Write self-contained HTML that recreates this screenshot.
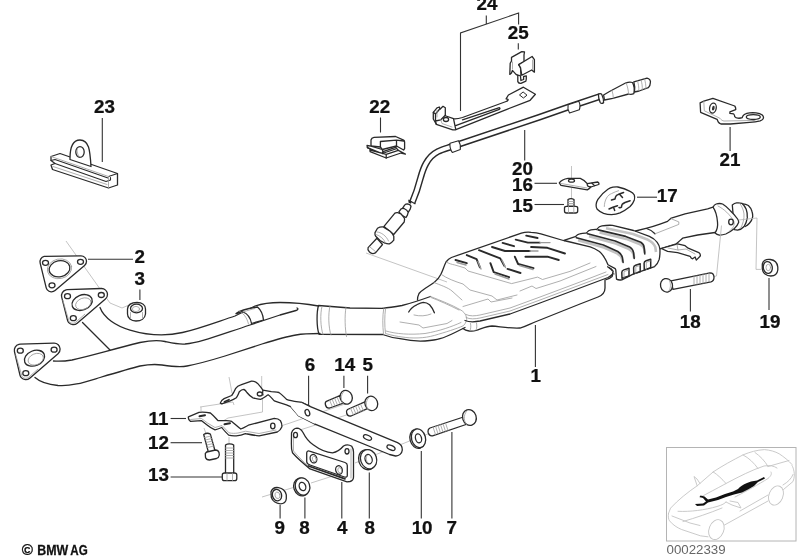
<!DOCTYPE html>
<html><head><meta charset="utf-8">
<style>
html,body{margin:0;padding:0;background:#fff;}
body{width:799px;height:559px;overflow:hidden;}
svg{display:block;filter:grayscale(1);}
text{font-family:"Liberation Sans",sans-serif;}
.n{font-weight:bold;font-size:18px;fill:#111;text-anchor:middle;stroke:#111;stroke-width:0.25px;}
.l{stroke:#333;stroke-width:1.1;fill:none;}
.o{stroke:#2a2a2a;stroke-width:1.3;fill:#fff;stroke-linejoin:round;stroke-linecap:round;}
.on{stroke:#2a2a2a;stroke-width:1.3;fill:none;stroke-linejoin:round;stroke-linecap:round;}
.t{stroke:#9a9a9a;stroke-width:0.8;fill:none;stroke-linejoin:round;stroke-linecap:round;}
.p{stroke:#b5b5b5;stroke-width:0.8;fill:none;}
</style></head><body>
<svg width="799" height="559" viewBox="0 0 799 559">
<rect width="799" height="559" fill="#fff"/>
<!--LABELS-->
<g class="n">
<text transform="translate(486.9 10.0) scale(1.045 1)">24</text>
<text transform="translate(518.2 38.7) scale(1.045 1)">25</text>
<text transform="translate(104.5 113.0) scale(1.045 1)">23</text>
<text transform="translate(379.8 113.0) scale(1.045 1)">22</text>
<text transform="translate(522.4 174.9) scale(1.045 1)">20</text>
<text transform="translate(522.5 190.7) scale(1.045 1)">16</text>
<text transform="translate(522.5 212.0) scale(1.045 1)">15</text>
<text transform="translate(667.2 202.1) scale(1.045 1)">17</text>
<text transform="translate(729.9 165.7) scale(1.045 1)">21</text>
<text transform="translate(139.6 263.1) scale(1.045 1)">2</text>
<text transform="translate(139.6 285.1) scale(1.045 1)">3</text>
<text transform="translate(535.8 381.5) scale(1.045 1)">1</text>
<text transform="translate(690.3 328.2) scale(1.045 1)">18</text>
<text transform="translate(769.9 328.2) scale(1.045 1)">19</text>
<text transform="translate(309.9 371.0) scale(1.045 1)">6</text>
<text transform="translate(344.8 371.0) scale(1.045 1)">14</text>
<text transform="translate(367.6 371.0) scale(1.045 1)">5</text>
<text transform="translate(158.5 425.0) scale(1.045 1)">11</text>
<text transform="translate(158.5 449.1) scale(1.045 1)">12</text>
<text transform="translate(158.5 481.3) scale(1.045 1)">13</text>
<text transform="translate(279.7 533.5) scale(1.045 1)">9</text>
<text transform="translate(304.5 533.5) scale(1.045 1)">8</text>
<text transform="translate(342.3 533.5) scale(1.045 1)">4</text>
<text transform="translate(369.6 533.5) scale(1.045 1)">8</text>
<text transform="translate(422.1 533.5) scale(1.045 1)">10</text>
<text transform="translate(451.6 533.5) scale(1.045 1)">7</text>
</g>
<!--LEADERS-->
<g class="l">
<path d="M102.300 118V162"/>
<path d="M88 259.300H133"/>
<path d="M139.900 289.500V300"/>
<path d="M486.300 15.600V24M460.500 111V33L518.600 13V24.400M518.300 43.200V49.500"/>
<path d="M380.500 117.500V132.500"/>
<path d="M524.700 130V160.500"/>
<path d="M534.500 183.300H557"/>
<path d="M534.500 204.500H564"/>
<path d="M637 197.200H657"/>
<path d="M730.100 127V151"/>
<path d="M535.400 325V367"/>
<path d="M690.400 289V311.500"/>
<path d="M769 278V310"/>
<path d="M308.600 375.700V408"/>
<path d="M343.900 375.700V388"/>
<path d="M367.600 375.700V393.500"/>
<path d="M170.600 418.500H186"/>
<path d="M170.600 442.700H202"/>
<path d="M170.600 477H222"/>
<path d="M280.100 505V518.500"/>
<path d="M304.900 497.500V518.500"/>
<path d="M341.800 482V518.500"/>
<path d="M369.300 472.500V518.500"/>
<path d="M421.300 451V518.500"/>
<path d="M451.900 432V518.500"/>
</g>
<!--PARTS-->
<!-- part 23 -->
<g>
<path class="o" d="M51 156.5L60 153.5L117.5 173.5V185L108.5 188L52.5 169.5L51 165L55 163.5L51 160.5Z"/>
<path class="on" d="M51 160.500L55 159.500L108 178M55 163.500L106 181.500L110.500 180L110.500 177.500M108.500 176.500L117.500 173.500" style="stroke-width:1.1"/><path class="t" d="M51 156.500L108.500 176.500M108.500 176.500V188M53 166.500L107 184.500"/>
<path class="o" d="M70 158.5C70 150 71 140 80 140C89 140 90 150 91 166.5L70 159.5Z"/>
<ellipse class="o" cx="80" cy="152" rx="4.2" ry="5.4"/>
<path class="t" d="M77.5 148.5C76.5 151 77.5 155.5 80 157"/>
</g>
<!-- phantom lines near flanges -->
<path class="p" d="M66 241L110 303L122 308L129 305"/>
<!-- gasket 2 -->
<g transform="translate(0.5,0.8)">
<path d="M45 261L80.5 260.5L51 285.5Z" fill="#2a2a2a" stroke="#2a2a2a" stroke-width="12.3" stroke-linejoin="round"/>
<path d="M45 261L80.5 260.5L51 285.5Z" fill="#fff" stroke="#fff" stroke-width="9.7" stroke-linejoin="round"/>
<ellipse class="o" cx="59" cy="268" rx="10.5" ry="8" transform="rotate(-12 59 268)"/>
<ellipse class="t" cx="59" cy="268" rx="12.3" ry="9.8" transform="rotate(-12 59 268)"/>
<ellipse class="o" cx="45" cy="262" rx="3" ry="2.5"/>
<ellipse class="o" cx="80" cy="261" rx="3" ry="2.5"/>
<ellipse class="o" cx="51.5" cy="284.5" rx="3" ry="2.5"/>
</g>
<!-- pipes -->
<g>
<path class="on" d="M100 307.500C104 318 116 326 130 330C145 334.500 165 336.500 182.500 332.500C200 328.500 218 321.500 235 316L255 306C264 303 272 302.500 280 302.500C288 302.500 305 303.500 318.500 306"/>
<path class="on" d="M82.500 322.500L110 350"/>
<path class="on" d="M53.500 361C60 361.500 66 361 72 360C90 356 110 350 140 342.500C150 340.500 158 340 165 341.500C172 343 178 344.500 185 344C200 342.500 215 336.500 250 325L280 315L296 310.500C298 310 298.500 308.500 297 308"/>
<path class="on" d="M35 377.500C40 382 48 384.500 58 385.500C72 386.500 85 382 100 377.500C115 373 130 368.500 140 366C148 364.500 155 364 162 365C172 366.500 180 367.500 187 366C200 363.500 212 360 225 356L262 344C275 340 287 336.500 296 335C304 333.500 312 333.500 320 333.500"/>
<!-- sleeve -->
<path class="o" d="M236 313.500C240 310.500 248 308.500 257.500 307C261 310 263 315 263.500 320L251.500 323.500C250.500 318 247 313.500 243 312Z"/>
<path class="t" d="M239 311C243 312.500 247 317.500 248.500 324M243 312C248 310.500 252 309 255 308.500"/>
<!-- coupling -->
<path class="on" d="M382.500 308.300L350 308L318.500 305.500C316.500 312 316.500 327 319 334.300L382.500 334.500"/>
<path class="t" d="M330 306C328 314 328.500 328 331 335M346 307C344.500 316 345 329 346.500 336.500M322 306.500C320 314 320.500 327 323 334.500"/>
</g>
<!-- flange upper -->
<g transform="translate(0.8,1.2)">
<path d="M66.700 294.500L100.700 293.300L72.500 317.500Z" fill="#2a2a2a" stroke="#2a2a2a" stroke-width="13.300" stroke-linejoin="round"/>
<path d="M66.700 294.500L100.700 293.300L72.500 317.500Z" fill="#fff" stroke="#fff" stroke-width="10.700" stroke-linejoin="round"/>
<path class="t" d="M62 299L68 319.500C69 322 72 323 75 321L84 313"/>
<ellipse class="o" cx="81.300" cy="301.300" rx="10.500" ry="7.500" transform="rotate(-22 81.300 301.300)"/>
<ellipse class="t" cx="82.500" cy="302.500" rx="8" ry="5.500" transform="rotate(-22 82.500 302.500)"/>
<ellipse class="o" cx="66.700" cy="295" rx="3" ry="2.500"/>
<ellipse class="o" cx="100.500" cy="293.800" rx="3" ry="2.500"/>
<ellipse class="o" cx="72.500" cy="317" rx="3" ry="2.500"/>
</g>
<!-- flange lower -->
<g transform="translate(0.8,1.2)">
<path d="M19.500 349L53.300 348L25 372.500Z" fill="#2a2a2a" stroke="#2a2a2a" stroke-width="13.300" stroke-linejoin="round"/>
<path d="M19.500 349L53.300 348L25 372.500Z" fill="#fff" stroke="#fff" stroke-width="10.700" stroke-linejoin="round"/>
<path class="t" d="M15 354L21 374.500C22 377 25 378 28 376L37 368"/>
<ellipse class="o" cx="33.700" cy="357" rx="10.500" ry="7.500" transform="rotate(-22 33.700 357)"/>
<ellipse class="t" cx="35" cy="358" rx="8" ry="5.500" transform="rotate(-22 35 358)"/>
<ellipse class="o" cx="19.500" cy="349.500" rx="3" ry="2.500"/>
<ellipse class="o" cx="53.300" cy="348.500" rx="3" ry="2.500"/>
<ellipse class="o" cx="25" cy="372" rx="3" ry="2.500"/>
</g>
<!-- nut 3 -->
<g>
<path class="o" d="M127.500 309C128 304.500 132 302.500 137 302.500C142 302.500 145.500 305 145.500 309V314C145 318.500 141 321 136 321C131 321 127.500 318 127.500 314Z"/>
<ellipse class="on" cx="136.500" cy="308.500" rx="6" ry="4.300"/>
<ellipse class="t" cx="136" cy="309" rx="3.600" ry="2.600"/>
<path class="t" d="M130.500 312.500V318.500M142.500 312.500V318"/>
</g>
<!-- phantom line from sensor to muffler -->
<path class="p" d="M366 253L447 282"/>
<!-- Y piece / heat shield -->
<g>
<path class="on" d="M382.500 308.300C390 307.500 396 306.500 402 305.500C410 303.500 418 301 430.500 296.500"/>
<path class="on" d="M382.500 334.500C388 336.500 394 338 400 338.700C408 340.500 418 341.500 425 341C432 340.500 436 340 440 338.700C446 337 450 335 455 332.500C459 330.500 462 329 465 327.500"/>
<path class="t" d="M383.700 308.800C382.500 316 382.500 325 383.500 334M385.500 309C384.500 316 384.500 326 385.500 333.500C392 335.500 398 336.500 402 337C412 338.500 424 338.500 434.500 335.400C446 332 456 329 463.400 325.700C466 323 467 320 466.600 317.700C466 314 463 311 460 309.600C452 305 442 301 430.500 296.500"/>
<path class="t" d="M386 331C396 334 410 335 425 333.500C440 331 452 326.500 461 322.500"/>
<path class="t" d="M400 322L419 325L423 328L447 323.500L452 320.500M414 315C420 316.500 426 316 431 314"/>
<path class="on" d="M408.700 312C410 309.500 413 306.500 416.700 304.800C419 303.500 421 302.500 423.200 302.400C426 302.500 428 303.500 429.600 304.800C432 307.500 433.500 310 434.400 312.800"/>
</g>
<!-- Muffler -->
<g>
<!-- neck + top edge -->
<path class="on" d="M417.500 300C417.500 297.500 418 295.500 419 293.500C420.500 291.500 422 290.500 424 289.200C428 286.500 431.500 284.500 434.400 282.200C438 279.500 439.500 277 440.900 274.200C443 270 444 266 446 262C447.500 260 449 258.500 451.400 257.500L521.400 233.100C525 232 528 232 531.100 232.300C535 232.500 538 233 540.900 233.900L565 241"/>
<!-- right end of main box under 2nd box -->
<path class="on" d="M607.600 266.800C610 268.500 611.800 270 612.800 271.300C613.200 273.500 613 275.200 612.100 276.600C610.500 278 608.500 279 606 279.600"/>
<!-- flange line: front lower edge of top half -->
<path class="on" d="M465 320.500C470 322.500 475 322 480 321L510 314L540 303L580 288L608 277.500C612 275.500 614 273 613 271C612 269 610.500 268 609 267.500"/>
<path class="on" d="M463 328.500C466 331 472 332 476 330.500C482 328.500 487 326 492 326C500 326.500 508 328.500 520 328C527 326 531 323.500 535 322L580 304L598 297C603 295 605 291 605 288L605 280"/>
<path class="t" d="M466 317.500C470 319.500 475 319 480 318L510 311L540 300L580 285L608 274.500M466 314.500C470 316.500 475 316 480 315L510 308L540 297L580 282L606 272"/>
<path class="t" d="M470 330.500C471 328.500 471 326 470.500 323.500M476 330C477 328 477 326 476.500 323"/>
<!-- top face gray outline of raised area -->
<path class="t" d="M446 262C449 263.500 452 264.500 454.600 264.900L465 268L468 271L511.600 283.600L537.600 277.100L542.500 279.500L570 271.400L590 263"/>
<path class="t" d="M440.900 274.200C447 278.500 455 281.500 463 284L470 290L492 296L497 300L517 295M434 282.500C440 285 448 287.500 452 291L462 300M520 291L532 286L536 288.500L560 281L596 266.500"/>
<path class="t" d="M459 310C449 305 440 301 431 297.500M463 306.500L488 299L491 302L512 298"/>
<!-- ribs -->
<g class="on" style="stroke-width:1.9">
<path d="M455.500 260L466.800 263.200"/>
<path d="M466.800 255.100L476.600 259.200L479.900 267.300"/>
<path d="M479 250.200L500.200 258.400L504.300 265.700"/>
<path d="M490.400 263.200L493.700 272.200L509.100 277.100"/>
<path d="M492 247L505 251L530 251"/>
<path d="M502.600 242.900L514 246.200"/>
<path d="M515.700 239.600L527.900 242.600L540 242.600"/>
<path d="M526.200 235.600L537.600 238"/>
<path d="M507.500 268.900L520.500 273"/>
<path d="M514.800 256.700L518.100 264L533.600 268.100"/>
<path d="M525.400 256.700L547.400 256.700L558.800 260"/>
<path d="M531.100 247L547.400 247.800L565 253.500"/>
</g>
<g class="t" style="stroke-width:1.4">
<path d="M530 251L538 251M540 242.600L550 242.600M457 262.500L466 265M481 269L478 261.500M505.500 267.500L502 260M495 274L509 279M519.500 265.500L533 269.500"/>
</g>
</g>
<!-- second box (ribbed) -->
<g>
<path class="o" d="M563.900 240.400L573 237.300C574.500 236.800 575.500 236.600 575.800 236.400C576.800 235 578 234.200 579.700 233.800C582 233.200 584 233 586.300 233.100L586.900 232.500C587.800 231.200 589 230.300 590.900 229.900C593 229.500 595 229.400 596.800 229.500L597.500 228.500C598.600 227 600 226.200 602 225.900C605.500 225.300 609 225.100 612.600 225.300L633.600 230.500L649.400 236.400C653 238 655.500 240 657.200 242.300C658.700 244.300 659.600 246.500 659.900 248.900C660.100 252.500 659.900 256 659.200 259.400C658.300 262.300 656.800 264.800 654.600 266.600L633.600 273.900L621.800 279.800C620 280.200 618 280 616.500 279.100L615.800 269.900L615.200 268.600L608 264.700C607 262.300 606 260 604.700 258.100C603.200 255.500 601.500 253.300 599.400 251.500C596.500 249.600 593.500 248 590.200 246.900L565.900 241Z"/>
<!-- band shading -->
<g class="t" style="stroke:#c2c2c2;stroke-width:2.6;stroke-linecap:butt">
<path d="M606 228.300L633 234L648 239.800C651.500 241.500 654 244 655.300 247L656 252"/>
<path d="M599.500 232.400L626.200 238.900L640 244.300C642.500 245.500 643.800 247 644.300 249L644.800 253"/>
<path d="M589 236.300L615.700 243.500L628.500 248.800C631.500 250.200 633 252 633.500 254.300L634.200 258"/>
<path d="M578 240.200L603.900 247.500L616.500 253C619.500 254.500 621.300 256.500 622 259L622.800 262"/>
</g>
<!-- band dark lines -->
<g class="on" style="stroke-width:1.6">
<path d="M576.400 237.700L603.400 245L617.800 251.500C620.300 253 621.700 255 622.400 257.500L623.100 262.500"/>
<path d="M587.600 233.800L615.200 241L629.600 246.900C632 248.300 633.200 250.300 633.600 252.900L634.200 258.500"/>
<path d="M598.100 229.900L625.700 236.400L640.800 242.300C643 243.600 644 245.500 644.100 247.600L644.800 254"/>
</g>
<path class="t" d="M612.800 271.300L615.500 275.500"/>
<!-- windows on front -->
<path class="on" d="M621.800 272.500C621.800 271 622.600 270.300 623.800 269.900L629 268.200V276L622 278.300ZM633.600 267.800C633.600 266.300 634.400 265.600 635.600 265.200L640.200 263.700V271.700L633.800 273.900ZM644.100 263.300C644.100 261.800 644.900 261.100 646.100 260.700L650.700 259.200V267.700L644.300 269.900Z" style="stroke-width:1.500"/>
<path class="t" d="M624 277.700V271.500L628.700 270M635.800 273.300V266.800L639.900 265.500M646.300 269.300V262.300L650.400 261"/>
</g>
<!-- tail pipe -->
<g>
<path class="on" d="M635.500 231L646 228.300C650 227.500 655 226 660 224.200L667.600 221.300C669 220 670.300 219 671.300 218.100L685.100 213.800L707.600 208.800L713 207.200M646.500 228.500C650 229.500 653 231.500 655 233.800"/>
<path class="on" d="M660 248.800L676.300 243.800C678.500 242 680.500 240 682.600 238.200L697.600 235L715 232.500"/>
<path class="t" d="M671.300 218.800L678.800 221.900L678.800 224.400L655 233.800"/>
<!-- hanger bracket under pipe -->
<path class="o" d="M661.300 248.500L677.600 243.800L685.100 245.700L688.200 248.200L698.800 252.600C700.300 253.800 700.600 255.200 700.100 256.300L696.300 260.100L695.100 257L692.600 258.800C691.500 258.500 690.600 257.500 690.100 256.300L677.600 252.600L667.600 251.300Z"/>
<path class="t" d="M668 248L678 250L686 249L695 254M678 250L677 244.500"/>
<!-- flange at end -->
<path class="o" d="M732.300 205C734 203.500 735.500 203 736.600 202.900C738.500 202.700 740.300 202.800 741.900 203.300C743.800 205 745.200 207 746.200 209.300C747.200 212 747.500 215 747.300 217.900C746.800 221 745.700 224 744.100 226.500C742.300 228.500 740 229.700 737.600 230.100L734.400 229.700Z"/>
<path class="on" d="M743 203.800C745 203.800 746.800 204.500 748.400 205.500C750.200 207.200 751.400 209.200 752 211.500C752.600 213.300 752.800 215 752.700 216.800C752.200 219.300 751 221.500 749.400 223.300C748.200 224.700 746.800 225.800 745.200 226.500"/>
<path class="t" d="M739.500 203.200C742 206 743.500 210 744 214C744.300 219 743 224 740.500 228.500"/>
<path class="o" d="M713 207.200C713.800 205.500 714.900 204.500 716.200 204C718.500 203.300 720.600 203.300 722.600 204C725.500 205.800 728 208 730.100 210.400C733 213 735.500 216 737.600 219C738.300 220 738.700 221 738.700 222.200C737.800 224.600 736.400 226.800 734.400 228.600C731.800 230.800 729 232.700 725.800 234C723.600 234.800 721.500 235.200 719.400 235.100C717.800 234.700 716.300 234 715.100 232.900C717 230 718 226 717.500 222C717 216 715 210 713 207.200Z"/>
<path class="t" d="M718 206C724 209 730 214.500 734 221.500C735 225 733 228.500 729.500 231"/>
<ellipse class="o" cx="731" cy="222" rx="2.300" ry="2.800"/>
</g>
<!-- phantom lines for 18/19 -->
<path class="p" d="M721.500 225.500L716.500 276L712 277M738.700 220L757 218L756 269.400L761 269.400"/>
<!-- bolt 18 -->
<g transform="translate(0,0.8)">
<path class="o" d="M671 280L710 272C712.500 272 714 274 714 276.500C714 279 713 280.500 711 281L673 288.500Z"/>
<path class="t" d="M694 275.500V284M697 275V283.500M700 274.500V283M703 273.500V282.500M706 273V282M709 272.500V281"/>
<ellipse class="o" cx="666.500" cy="284.500" rx="6" ry="6.800" transform="rotate(-15 666.500 284.500)"/>
<path class="t" d="M669 279C671 282 671 287 669 290"/>
</g>
<!-- nut 19 -->
<g transform="translate(1.3,0)">
<path class="o" d="M761 264C762 260.500 765 259 769 259.500C773 260 776 263 776.500 267V270C776 274 773 276 769.500 276C765 276 761.500 273 761 269Z" />
<ellipse class="on" cx="766.500" cy="267.500" rx="4.500" ry="6" transform="rotate(-10 766.500 267.500)"/>
<ellipse class="t" cx="767" cy="267.500" rx="2.300" ry="3.200"/>
</g>
<!-- sensor 20 cable -->
<g fill="none" stroke-linecap="butt" stroke-linejoin="round">
<path d="M412 203C415.500 195 418.500 186 420.800 177C422.500 171 424 167 426 163.500C429 158 433 154 438 151.500C442 149.500 446 148.500 452 146.500L540 117L570 106.500L600 96.500" stroke="#2a2a2a" stroke-width="6.800"/>
<path d="M411.500 204.500C415.500 195 418.500 186 420.800 177C422.500 171 424 167 426 163.500C429 158 433 154 438 151.500C442 149.500 446 148.500 452 146.500L540 117L570 106.500L601 96.200" stroke="#fff" stroke-width="3.900"/>
</g>
<!-- sleeves -->
<path class="o" d="M450 143.300L458.500 140.800C460 143 460.700 146.500 460.300 149.500L452.300 152.500C450.500 150 449.700 146.500 450 143.300Z" style="stroke-width:1.1"/>
<path class="o" d="M568.100 104.800L578.700 101.300C580 103.500 580.300 107 579.300 109.700L569.500 113C568 110.500 567.500 107.500 568.100 104.800Z" style="stroke-width:1.100"/>
<path class="o" d="M598.400 94.500C599.500 93.300 601 93.500 601.800 94.500C603 97 603.700 100 603.600 102.500C602.500 103.800 601 103.700 600.200 102.500C599 100 598.400 97 598.400 94.500Z"/>
<!-- connector -->
<path class="o" d="M603.600 95L609.500 91.500L626 82.800C628.500 82 631 82 632.500 82.500C634.300 86 634.700 90 633.800 93.700C632 94.500 630 94.500 628.600 94L612.800 98.300L604.500 100Z"/>
<path class="t" d="M626 82.800C627.500 86 628.300 90 628.600 94M612 90.500C612.800 93 613.300 95.500 613.300 98"/>
<path class="o" d="M633.800 81.800L647 78.100C649.500 78.500 651 80.500 650.300 83.100C650.300 85 649.500 86.800 648.300 87.700L639.100 91L634.500 92C635 88.500 634.700 85 633.800 81.800Z"/>
<path class="t" d="M637.500 81C638.500 84 639 87.500 638.800 90.800M641 80C642 83 642.500 86.500 642.300 89.800M644.500 79C645.500 82 646 85.500 645.800 88.500"/>
<!-- sensor body -->
<g>
<path class="o" d="M402.500 208.300L404.600 205.100C405.500 204.200 406.500 203.900 407.400 203.900C409.500 204.300 410.800 205.300 411 206.300L410.200 209.100L408.200 212.300C405.800 211.500 403.800 210.200 402.500 208.300Z"/>
<path d="M408.300 200.500L411.800 201.300L411 203.800L408.600 202.800Z" fill="#222"/><path class="on" d="M408.800 200.200L415 203.700" style="stroke-width:1.1"/>
<path class="o" d="M398.900 211.900L400.900 209.100C401.800 208.400 402.800 208.200 404 208.500C406 209.500 407.500 210.800 408.200 212.300L407.400 215.100L406 217.500C403 216.500 400.500 214.500 398.900 211.900Z"/>
<path class="o" d="M384 226.400L394.900 213.100C395.800 212.600 396.700 212.500 397.700 212.700C400.300 213.300 402.200 214.800 403.300 216.700C404.200 217.500 404.600 218.300 404.600 219.200L404.200 222L393.700 234.500Z"/>
<path class="o" d="M375 232.600L377.500 228.200C379.500 227 381.500 226.600 383.200 226.900L390.100 231.300C391.800 232.800 393 234.500 393.800 236.300V240.100C392.500 241.800 391 243 389.400 243.800C388 244 386.500 243.700 385 243.200L380 240.500L375.700 236.300C375 235 374.800 233.800 375 232.600Z"/>
<path class="t" d="M377 232C381 232 386.500 236 388.500 241M376 234.500C380 235.500 384 239 385.500 243"/>
<path class="o" d="M376.900 238.200L382.500 244.500L375.700 252.600C373.500 254 371 253.500 369.500 252C368 250.500 367.500 249 368.100 247.600Z"/>
<path class="t" d="M370 247L376 252"/>
</g>
<!-- part 22 clip -->
<g>
<path class="o" d="M371 146V140C371.300 138.500 372.500 137.500 374 137.300L395.600 136.500L403.600 140.100C404.300 140.500 404.600 141.200 404.600 142V148.600L403.600 150L396.500 146L382.200 149.500L380.400 147Z"/>
<path class="on" d="M380.400 147V141.500L396.500 140.100V146M396.500 140.100L403.800 141"/>
<path class="o" d="M367 145.500L367.400 147.700L370.100 149V151.700L386.200 158L401 153L405.400 154L398.300 150.400L395.600 147.300L383 151.700L382.200 149.500L371 146.200Z"/>
<path class="on" d="M367.400 147.700L382.200 153.500L383 151.700M370.100 150L386.200 154.400L398.300 150.400M386.200 154.400V158M382.200 153.500L395.600 149"/>
</g>
<!-- part 24 bracket -->
<g>
<path class="o" d="M506.100 98.800L508.400 95L523.400 87.200L535.400 94.300L530.100 100.300L506.900 109.300L455.800 129.600C454.500 130 453 130 452 129.600L436.300 124.300L433.300 119V112.300L437 107.800L439.300 107L440 109.300L443 106.300L445.300 107.800V115.300L446 116L453.500 118.700C456 119 459 118.500 462.500 117.500L506.100 101.500C507.500 101 508.500 100 508 99.300Z"/>
<path class="on" d="M498.600 107.800L462.500 119.800M499.300 109.300L455 125.800M498.600 107.800C500 107.500 500.500 108.800 499.300 109.300M453.500 118.700L455 125.800L455.800 129.600"/>
<path class="on" d="M433.300 112.300L435.500 114V121L440.800 119.800L445.300 115.300M435.500 114L439.300 109.500M436.300 124.300L435.500 121"/>
<path class="t" d="M440.800 119.800L442 123.500L452 127M437 110.500V117"/>
<ellipse class="on" cx="446" cy="119.500" rx="2.600" ry="2"/>
<path class="on" d="M523.400 92.200L527 95.200L523.400 98L519.800 95.200Z" style="stroke-width:1"/>
</g>
<!-- part 25 -->
<g>
<path class="o" d="M511.500 57.400L521.800 51.600L524.500 52L524 54.800V62L518.700 64.600L520.500 67.700L521 75L518.700 75.800L516 74.400L512.400 70.400L511.500 73L509.800 74.400L510.200 63.300L511.500 61Z"/>
<path class="o" d="M517.800 75L517.800 81.600C518.500 83 519.800 83.500 520.900 83.400L525.900 81.100C526.300 80 526.400 78 526.300 75.800L523.600 76.500V79.500L520.900 80.500L520.500 76Z"/>
<path class="o" d="M518.700 64.600L532.100 56.500L534.400 59.700V72.200L531.700 70L521.800 75.300L520.500 67.700Z"/>
<path class="t" d="M512.500 62V69M532.500 60V69.500"/>
</g>
<!-- part 21 -->
<g>
<path class="o" d="M700.100 102.800L703.800 101.200L712.900 98.300L734.700 106C735.500 107 735.900 108.300 735.700 109.700L729.900 111.800V113.400L733.600 113.900C734.300 114.600 734.700 115.500 734.700 116.600C735.500 117.500 736.500 118 737.900 118.200C739.500 118.300 741 118.200 742.100 117.700C742.500 116.300 743.200 115.200 744.300 114.500C746 113.600 747.800 113.100 749.600 112.900C751.800 112.700 754 112.700 756 112.900C758.500 113.200 760.800 113.900 762.300 115C763.300 116 763.700 117 763.400 118.200C762.800 119.500 761.700 120.400 760.200 120.900C757 121.700 753.500 122.200 749.600 122.400L730.400 124H720.900C719.700 123.600 718.800 122.900 718.200 121.900L717.100 119.300L700.600 112.300Z"/>
<path class="t" d="M703.800 101.200L704.300 110.800L719.800 118.200C721 119.800 722.500 120.800 724 121L755 120.400"/>
<ellipse class="on" cx="712.900" cy="108.100" rx="3.300" ry="5" transform="rotate(12 712.900 108.100)"/>
<ellipse cx="713.300" cy="108.200" rx="1.300" ry="2.400" fill="#333" transform="rotate(12 713.300 108.200)"/>
<ellipse class="on" cx="753.300" cy="117.100" rx="7" ry="2.400"/>
</g>
<!-- part 16 -->
<g>
<path class="p" d="M571.500 166V178M571.500 188V199"/>
<path class="o" d="M559.300 182.800C561 180.500 564 179 568 178.400H580.300C583 179.500 585.500 181.500 587.300 183.700L597.800 182C599 182.800 599.200 183.800 598.700 184.500L590.800 187C589.800 188.200 588.500 189.200 587.300 189.800L561 185.400Z"/>
<path class="on" d="M587.300 183.700C586.800 185.500 587.800 186.800 590.800 187M592 183.200L594.500 185.600"/>
<path class="t" d="M561 183.500L587 188"/>
<ellipse class="on" cx="571.500" cy="180.700" rx="3" ry="1.500"/>
</g>
<!-- bolt 15 -->
<g>
<path class="o" d="M568 199.500C569.500 198.600 572.500 198.600 574 199.500V207H568Z"/>
<path class="t" d="M568 201.500H574M568 203.500H574M568 205.300H574"/>
<path class="o" d="M564.500 208C564.500 206.800 565.500 206.300 566.500 206.300H575.500C576.700 206.300 577.700 207 577.700 208V211C577.700 212.300 576.500 213 575.500 213H566.500C565.300 213 564.500 212.300 564.500 211Z"/>
<path class="t" d="M568.500 206.500V213M573.800 206.500V213"/>
</g>
<!-- part 17 rubber hanger -->
<g>
<path class="o" d="M596.100 204.700C596.300 202.500 597 200.700 597.900 199.300C600.500 195.500 604 192 607.900 189.300C609.500 188.200 611.200 187.500 612.900 187.200C614.500 187 616.300 186.900 617.900 187C622.500 188 626.500 189.500 630.100 191.400C632 192.300 633.500 193.500 634.300 195C634.800 196.700 634.800 198.300 634.300 200C633.500 202.300 632 204.500 630.100 206.500C627 209 623.500 211.300 620 212.900C617.300 214 614.500 214.600 611.500 214.700C608.700 214.600 606 214.100 603.600 213.300C601 212.300 598.800 211 597.200 209.300C596.300 208 596 206.300 596.100 204.700Z"/>
<path class="t" d="M604.300 206.500C604.300 203.500 605.200 200.500 606.500 198C608 195.500 609.700 194.300 611.500 193.600C614 192.300 616.500 191.300 618.600 190.700"/>
<path class="on" d="M611.500 200L615 199C615.200 197.500 615.800 196.300 616.500 195.400L618.600 194.300L623.600 192.500M620 194.700L622.500 197.500" style="stroke-width:1.500"/>
<path class="on" d="M609 209L612.900 207.200L617.500 205.800M613.600 207.500L614.700 210.400M619 207.500C620 207.800 620.800 207.700 621.500 207.200C621.500 206 621.800 205 622.200 204.300C623 203.500 624 203 625 202.500L630.100 200.700" style="stroke-width:1.500"/>
</g>
<!-- phantom lines in bracket area -->
<path class="p" d="M229 377L232 393M261.700 376V388M262.500 390V412L228 418L223 421M200 407L233 402L234 405M201 407V411M204 428L206.500 435M229 437V444M262 432L290 423M290 423L345 404M300 430L365 409M336 475L311 483M295 487L262 497M355 463L412 440M423 436L430 433"/>
<!-- upper clamp (6 left part) -->
<g>
<path class="o" d="M220.300 403.100C221 400.500 222.500 399.500 224.100 398.600L231.700 395.500C233.500 393 234.500 391 235.500 388.700C237 386.500 238.500 385.500 240.800 384.900L251.500 381.100C254 381 256 382 257.600 383.400C259.500 385.500 261.500 388 262.900 390.200L271.300 391.700C274 392 276.500 392 278.900 392.500C282 394.500 284 397 286.500 399.300C291 401 296 401.500 302 402.500L310.400 406.600L315 424.100L298.300 415.700C296 412.500 293 409.500 290.600 406.600C288 405.500 285.500 404.500 283.400 403.900C280 403 277 402 274.300 400.900C272 398.500 270.500 396.500 268.200 394.800C265.500 396.500 263 398.500 260.600 399.300C258 399 255.500 398.500 253 397.800C250.500 396.500 248.500 394.500 246.900 392.500C246 391 245 390 243.900 389.400C242 389.500 240.500 390.500 239.300 391.700C238.500 394 237.500 396 236.300 397.800C234.500 399 232.500 400 230.200 400.900L221.800 403.900Z"/>
<path class="on" d="M224.500 401.800L229 399.800" style="stroke-width:1.8"/>
<ellipse class="on" cx="259.800" cy="394" rx="2.500" ry="2"/>
<path class="on" d="M262.900 390.200C262.500 392 262.500 393.500 263 395"/>
</g>
<!-- lower clamp 11 -->
<g>
<path class="o" d="M188.400 416.800L199 412.300C203 412 207 412.300 210.400 413C213.500 415.500 216 418.500 218 420.600L225.600 420.600C228 420.500 230 420.800 231.700 421.400C235 424 238 427 240.800 429C243.500 428 246 426.500 248.400 425.200L274.300 418.300C277 418.300 279 419 280.400 420.600C281.500 422.500 282 424.500 281.900 426.700C281 429 279.500 431 277.300 432L259.100 435.800C254.500 435.500 250 434.500 245.400 433.600C242.500 434.800 239.500 435.500 236.300 435.800C233.500 436 231 435.800 228.700 435.100C226 432.500 223.500 430 221.800 427.500C219.500 428.500 217 429.500 215 429.800C212 428.500 209.500 427 207.400 425.200C205 423.500 203 422 201.300 420.600L190.600 421.400C188.800 420 188 418.500 188.400 416.800Z"/>
<path class="t" d="M190.600 419.500L201.500 418.500L207.500 423L215 427.500L222 425.500L229 432.800C232 433.500 235 433.500 238 433L245.500 431.200L259 433.500L276 430"/>
<path class="on" d="M199.500 416.300L205 415.300" style="stroke-width:2"/>
<path class="on" d="M224.500 424.300L230 423.300" style="stroke-width:2"/>
<ellipse class="on" cx="272.800" cy="426" rx="2.200" ry="2.800"/>
</g>
<!-- bolt 12 -->
<g>
<path class="o" d="M203.700 434.500C205.500 433.300 208.500 433 210.300 434L215.500 452.500L209 454.500Z"/>
<path class="t" d="M204.500 437.500L211 436M205.300 440L211.800 438.500M206 442.500L212.500 441M206.800 445L213.300 443.500M207.500 447.500L214 446"/>
<path class="o" d="M205.300 453.500C206 452 207.500 451.500 209 451.500L215.500 450C217.500 450 218.500 451 219 452.500L219.300 455C219 457 218 458 216.500 458.500L209.500 460C207.500 460 206 459 205.500 457.500Z"/>
</g>
<!-- bolt 13 -->
<g>
<path class="o" d="M225.500 445C227.500 443.600 231.500 443.600 233.700 445V474.500H225.500Z"/>
<path class="t" d="M225.500 448H233.700M225.500 450.500H233.700M225.500 453H233.700M225.500 455.500H233.700M225.500 458H233.700"/>
<path class="o" d="M222.300 475C222.300 473.800 223.300 473 224.500 473H234.500C236 473 236.800 474 236.800 475V478.500C236.800 480 235.800 480.700 234.500 480.700H224.500C223 480.700 222.300 479.800 222.300 478.500Z"/>
<path class="t" d="M227 473.300V480.500M232.500 473.300V480.500"/>
</g>
<!-- bracket 6 bar -->
<g>
<path class="o" d="M302 402.500L310.400 406.600L397.500 442.600C400.500 444 402.500 447 402.300 450C402 453.500 399 456.200 395.600 456L389.500 454.500L315 424.100L298.300 415.700L290.600 406.600Z" style="stroke:none"/>
<path class="on" d="M302 402.500L310.400 406.600L397.500 442.600C400.500 444 402.500 447 402.300 450C402 453.500 399 456.200 395.600 456L389.500 454.500L315 424.100"/>
<ellipse class="on" cx="307.400" cy="412.700" rx="2.200" ry="3.300" transform="rotate(-20 307.400 412.700)"/>
<ellipse class="on" cx="367.500" cy="437.500" rx="4.300" ry="2.200" transform="rotate(24 367.500 437.500)"/>
<ellipse class="on" cx="391" cy="447.700" rx="4.300" ry="2.200" transform="rotate(24 391 447.700)"/>
</g>
<!-- bolt 14 -->
<g>
<path class="o" d="M326.400 401.300L341 395.200L344.200 402.800L329.600 408C327.500 408.300 326 407 325.500 405C325 403.300 325.300 402 326.400 401.300Z"/>
<path class="t" d="M329.500 400L332.500 407M332 399L335 406M334.500 398L337.500 405M337 397L340 404"/>
<ellipse class="o" cx="346.200" cy="397.300" rx="6" ry="7" transform="rotate(-20 346.200 397.300)"/>
<path class="t" d="M343.500 392C340.500 395 340.500 401 343.500 404"/>
</g>
<!-- bolt 5 -->
<g>
<path class="o" d="M347.500 409.500L366 401.300L368.500 408.100L351 416C348.800 416.500 347.300 415.300 346.700 413.300C346.200 411.600 346.500 410.300 347.500 409.500Z"/>
<path class="t" d="M350.500 408.300L353.500 415M353 407.200L356 414M355.500 406.100L358.500 413M358 405L361 412M360.500 404L363.500 411"/>
<ellipse class="o" cx="371.300" cy="403.400" rx="6.300" ry="7.300" transform="rotate(-20 371.300 403.400)"/>
<path class="t" d="M368.500 398C365.500 401 365.500 407 368.500 410"/>
</g>
<!-- plate 4 -->
<g>
<path class="o" d="M291.500 433C292.500 430 294.500 428.300 297 428.200C299.500 428.200 301.500 430 303 432.500C305.500 437.500 309 442 313.200 444.700C319 449 326 452.500 332.500 452.800C337 452 340.500 449.500 343.500 446C346 444.500 349.500 444.800 351.800 446.300C353 448 353.500 450 353.500 452V477C353.500 479.500 352 481 350 481.500L347 481.800L310 468.900C304 464 297 458 292.500 452.800C291.500 450 291.300 447 291.400 444Z"/>
<path class="t" d="M293.500 436V451C298 456.500 304 462 308 466M351 449V478"/>
<path class="o" d="M306.700 453C306.700 451.500 308 450.500 309.500 451.100L345 462.500C346.500 463 347.300 464 347.300 465.500V475.500C347.300 477 346 477.500 344.500 477L310 465C308 464.300 306.700 463 306.700 461.500Z"/>
<path class="on" d="M308.500 466L345 478.800" style="stroke-width:1.800"/>
<ellipse class="on" cx="295.500" cy="435" rx="2" ry="2.700"/>
<ellipse class="on" cx="347" cy="451.300" rx="2" ry="2.700"/>
<ellipse class="on" cx="313.500" cy="458.700" rx="3.300" ry="4.300" transform="rotate(-15 313.500 458.700)"/>
<ellipse class="t" cx="314.300" cy="459" rx="1.900" ry="2.800" transform="rotate(-15 314.300 459)"/>
<ellipse class="on" cx="339" cy="470" rx="3.300" ry="4.300" transform="rotate(-15 339 470)"/>
<ellipse class="t" cx="339.800" cy="470.300" rx="1.900" ry="2.800" transform="rotate(-15 339.800 470.300)"/>
</g>
<!-- washer 8 right -->
<g>
<ellipse class="o" cx="367.200" cy="459.700" rx="8.500" ry="10.200" transform="rotate(-18 367.200 459.700)"/>
<ellipse class="o" cx="368.600" cy="459.200" rx="8" ry="9.800" transform="rotate(-18 368.600 459.200)"/>
<ellipse class="on" cx="368.600" cy="459.200" rx="3.500" ry="4.800" transform="rotate(-18 368.600 459.200)"/>
<path class="t" d="M367 455.500C365.800 457.500 366 461 367.800 463"/>
</g>
<!-- washer 10 -->
<g>
<ellipse class="o" cx="417.300" cy="438.800" rx="7.300" ry="9.800" transform="rotate(-15 417.300 438.800)"/>
<ellipse class="o" cx="418.500" cy="438.300" rx="7" ry="9.500" transform="rotate(-15 418.500 438.300)"/>
<ellipse class="on" cx="418.500" cy="438.300" rx="3" ry="4.600" transform="rotate(-15 418.500 438.300)"/>
</g>
<!-- bolt 7 -->
<g>
<path class="o" d="M430 428L463.500 417L466 424.500L432.500 435.800C430.500 436.200 429 435 428.300 433C427.700 431 428.300 429 430 428Z"/>
<path class="t" d="M433 427L435.500 434.500M435.500 426.200L438 433.700M438 425.400L440.500 432.900M440.500 424.600L443 432.100M443 423.800L445.500 431.300M445.500 423L448 430.500"/>
<ellipse class="o" cx="469.400" cy="417.500" rx="6.800" ry="8" transform="rotate(-18 469.400 417.500)"/>
<path class="t" d="M466.500 411.500C463.300 415 463.500 421.500 467 425"/>
</g>
<!-- washer 8 left -->
<g>
<ellipse class="o" cx="301.300" cy="487" rx="7.500" ry="9" transform="rotate(-18 301.300 487)"/>
<ellipse class="o" cx="302.500" cy="486.500" rx="7.200" ry="8.700" transform="rotate(-18 302.500 486.500)"/>
<ellipse class="on" cx="302.500" cy="486.500" rx="3.200" ry="4.300" transform="rotate(-18 302.500 486.500)"/>
</g>
<!-- nut 9 -->
<g transform="translate(0.5,0.8)">
<path class="o" d="M270.500 491C271.500 488 274.500 486.300 278 486.800C282 487.500 285 490.500 285.800 494V498C285.500 501 283 503 279.800 503C275.500 502.800 271.800 500 270.800 496.500Z"/>
<ellipse class="on" cx="276.500" cy="494.300" rx="4.600" ry="5.800" transform="rotate(-15 276.500 494.300)"/>
<ellipse class="t" cx="277" cy="494.500" rx="2.500" ry="3.300" transform="rotate(-15 277 494.500)"/>
</g>
<!--P7-->
<!--FOOTER-->
<g font-weight="bold" font-size="15.500" fill="#111" stroke="#111" stroke-width="0.3">
<text x="21.800" y="554.500" textLength="11.200" lengthAdjust="spacingAndGlyphs">©</text>
<text x="37.300" y="554.500" textLength="31" lengthAdjust="spacingAndGlyphs">BMW</text>
<text x="70.300" y="554.500" textLength="17.400" lengthAdjust="spacingAndGlyphs">AG</text>
</g>
<rect x="666.5" y="447.5" width="129.500" height="93.500" fill="#fff" stroke="#b4b4b4" stroke-width="1"/>
<!-- car thumbnail -->
<g fill="none" stroke="#c4c4c4" stroke-width="0.9" stroke-linejoin="round" stroke-linecap="round">
<path d="M668.500 513.400C668 517 668.500 519.500 669.600 520.900C673 525 677 527.500 681.300 529.400L700.400 535.800L708 536.800"/>
<ellipse cx="716.400" cy="529.600" rx="7.300" ry="10.300" transform="rotate(22 716.400 529.600)"/>
<path d="M724.500 525L768 501"/>
<ellipse cx="776" cy="495.500" rx="7" ry="10" transform="rotate(22 776 495.500)"/>
<path d="M783.500 489.500L793 481.500C794.500 478 794.500 474 794.100 471.900C793.500 469 793 467 792 465.500"/>
<path d="M713.200 471.900C722 466 733 460 743 454.900C750 452 757 450 764.300 449.600C770 450 775 451.500 779.200 453.800C784 457 788.500 460.500 792 464.500"/>
<path d="M713.200 471.900L697.200 485.800C688 492 678 500 670.600 508.100L668.500 513.400"/>
<path d="M713.200 471.900C718 475 722 479 726 483.500C716 489 708 493 700 497.500"/>
<path d="M726 483.500C740 476 752 470 764 466C770 465 774 466 777 468"/>
<path d="M755 452.500C760 456 765 461 768 466.500M743 454.900C749 458 754 463 758 468.500M768 466.500L789 460.500"/>
<path d="M697.200 485.800L694 476.500L697 479L700 483.500"/>
<path d="M678 511.300C690 512 705 510 717 506.500C722 505 725 503.500 726 502M672 516L690 523L700 525.500M683 521.500C695 518 710 513 722 508"/>
<path d="M726 502L732 505L741 508L738 502.500L730 501"/>
<path d="M735 497C745 492 760 483.500 768 478.500C771 476 772 474 771 472M740 511L768 495M783 485C788 482 791.500 478.500 793 474.500"/>
</g>
<path d="M695 504L703 503.500L706 501.500L703 498L699.500 497L700.500 495.500L704.500 496.500L708 499.500L716 497.500L725 494L733 491.500L738 489C740 486.500 743 484.500 747 483L751 481.500L757 480.500L764 477L765 478.500L758 482L754 486L748 489.500L742 492.500L734 494.500L726 497L718 500L708 502.500L704 505.500L697 506Z" fill="#111"/>
<text x="666.5" y="553.5" font-size="13.300" fill="#666">00022339</text>
</svg>
</body></html>
